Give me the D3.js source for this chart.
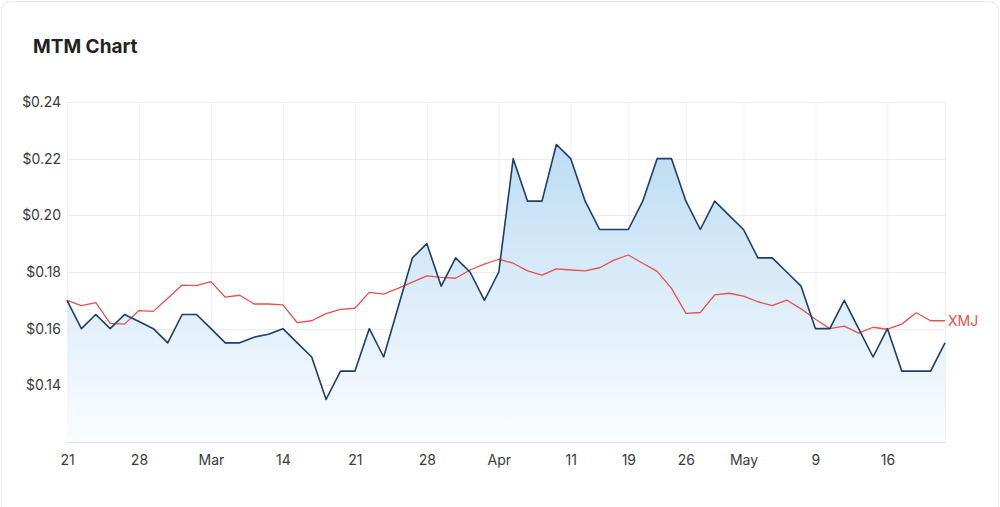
<!DOCTYPE html>
<html>
<head>
<meta charset="utf-8">
<script src="https://cdn.jsdelivr.net/npm/d3@7"></script>
<style>
  html, body { margin: 0; padding: 0; background: #fff; }
  svg { display: block; font-family: Inter, "Noto Sans", sans-serif; }
</style>
</head>
<body>
<div id="chart"></div>
<script>
// ASX trading days, 21 Feb - 20 May 2022 (Easter + Anzac day closed)
const dates = [
  '2022-02-21', '2022-02-22', '2022-02-23', '2022-02-24', '2022-02-25',
  '2022-02-28', '2022-03-01', '2022-03-02', '2022-03-03', '2022-03-04',
  '2022-03-07', '2022-03-08', '2022-03-09', '2022-03-10', '2022-03-11',
  '2022-03-14', '2022-03-15', '2022-03-16', '2022-03-17', '2022-03-18',
  '2022-03-21', '2022-03-22', '2022-03-23', '2022-03-24', '2022-03-25',
  '2022-03-28', '2022-03-29', '2022-03-30', '2022-03-31', '2022-04-01',
  '2022-04-04', '2022-04-05', '2022-04-06', '2022-04-07', '2022-04-08',
  '2022-04-11', '2022-04-12', '2022-04-13', '2022-04-14',
  '2022-04-19', '2022-04-20', '2022-04-21', '2022-04-22',
  '2022-04-26', '2022-04-27', '2022-04-28', '2022-04-29',
  '2022-05-02', '2022-05-03', '2022-05-04', '2022-05-05', '2022-05-06',
  '2022-05-09', '2022-05-10', '2022-05-11', '2022-05-12', '2022-05-13',
  '2022-05-16', '2022-05-17', '2022-05-18', '2022-05-19', '2022-05-20',
];

const mtm = [
  0.17, 0.16, 0.165, 0.16, 0.165,
  0.1625, 0.16, 0.155, 0.165, 0.165,
  0.16, 0.155, 0.155, 0.157, 0.158,
  0.16, 0.155, 0.15, 0.135, 0.145,
  0.145, 0.16, 0.15, 0.1675, 0.185,
  0.19, 0.175, 0.185, 0.18, 0.17,
  0.18, 0.22, 0.205, 0.205, 0.225,
  0.22, 0.205, 0.195, 0.195,
  0.195, 0.205, 0.22, 0.22,
  0.205, 0.195, 0.205, 0.2,
  0.195, 0.185, 0.185, 0.18, 0.175,
  0.16, 0.16, 0.17, 0.16, 0.15,
  0.16, 0.145, 0.145, 0.145, 0.155,
];

// XMJ rebased to MTM's first close
const xmj = [
  0.17, 0.1681, 0.1692, 0.1619, 0.1616,
  0.1664, 0.1661, 0.1707, 0.1754, 0.1752,
  0.1766, 0.1711, 0.1718, 0.1687, 0.1687,
  0.1684, 0.1621, 0.1628, 0.1653, 0.1668,
  0.1672, 0.1728, 0.1722, 0.1742, 0.1764,
  0.1786, 0.1781, 0.1778, 0.1807, 0.1828,
  0.1845, 0.1831, 0.1804, 0.1789, 0.1811,
  0.1807, 0.1804, 0.1815, 0.1842,
  0.186, 0.1831, 0.1802, 0.1742,
  0.1654, 0.1657, 0.1719, 0.1725,
  0.1715, 0.1695, 0.1681, 0.1701, 0.1670,
  0.1633, 0.16, 0.1609, 0.1584, 0.1605,
  0.1598, 0.1616, 0.1656, 0.1628, 0.1628,
];

const xTickDates = ['2022-02-21', '2022-02-28', '2022-03-07', '2022-03-14', '2022-03-21', '2022-03-28',
  '2022-04-04', '2022-04-11', '2022-04-19', '2022-04-26', '2022-05-02', '2022-05-09', '2022-05-16'];
const xTickLabels = ['21', '28', 'Mar', '14', '21', '28', 'Apr', '11', '19', '26', 'May', '9', '16'];
const yTicks = [0.14, 0.16, 0.18, 0.20, 0.22, 0.24];

const width = 1000;
const height = 507;
const margin = { top: 102, right: 55, bottom: 65, left: 67 };
const plotW = width - margin.left - margin.right;
const plotH = height - margin.top - margin.bottom;

const svg = d3.select('#chart')
  .append('svg')
  .attr('width', width)
  .attr('height', height);

// card outline
svg.append('rect')
  .attr('x', 1.5).attr('y', 1.5)
  .attr('width', width - 3).attr('height', height + 20)
  .attr('rx', 9)
  .attr('fill', '#fff')
  .attr('stroke', '#e6e6e6');

svg.append('text')
  .attr('x', 33).attr('y', 53)
  .attr('font-size', 19)
  .attr('font-weight', 700)
  .attr('fill', '#222')
  .text('MTM Chart');

const g = svg.append('g')
  .attr('transform', `translate(${margin.left},${margin.top})`);

const x = d3.scalePoint()
  .domain(dates)
  .range([0, plotW]);

const y = d3.scaleLinear()
  .domain([0.12, 0.24])
  .range([plotH, 0]);

// gridlines
g.append('g')
  .selectAll('line')
  .data(xTickDates)
  .join('line')
  .attr('x1', d => x(d) + 0.5).attr('x2', d => x(d) + 0.5)
  .attr('y1', 0).attr('y2', plotH)
  .attr('stroke', '#f0f0f0');

g.append('line')
  .attr('x1', plotW + 0.5).attr('x2', plotW + 0.5)
  .attr('y1', 0).attr('y2', plotH)
  .attr('stroke', '#f0f0f0');

g.append('g')
  .selectAll('line')
  .data(yTicks)
  .join('line')
  .attr('x1', 0).attr('x2', plotW)
  .attr('y1', d => Math.round(y(d)) + 0.5).attr('y2', d => Math.round(y(d)) + 0.5)
  .attr('stroke', '#ebebeb');

// area fill under MTM
const grad = svg.append('defs')
  .append('linearGradient')
  .attr('id', 'mtmFill')
  .attr('gradientUnits', 'userSpaceOnUse')
  .attr('x1', 0).attr('x2', 0)
  .attr('y1', y(d3.max(mtm))).attr('y2', plotH);
grad.append('stop').attr('offset', 0).attr('stop-color', '#bddcf3');
grad.append('stop').attr('offset', 1).attr('stop-color', '#fbfdff');

const area = d3.area()
  .x((d, i) => x(dates[i]))
  .y0(plotH)
  .y1(d => y(d));

g.append('path')
  .datum(mtm)
  .attr('fill', 'url(#mtmFill)')
  .attr('d', area);

// x axis
const xAxis = g.append('g')
  .attr('transform', `translate(0,${plotH})`)
  .call(d3.axisBottom(x)
    .tickValues(xTickDates)
    .tickFormat((d, i) => xTickLabels[i])
    .tickSize(0)
    .tickPadding(13));
xAxis.select('.domain').attr('stroke', '#e3e3e3');
xAxis.selectAll('text')
  .attr('font-size', 14)
  .attr('font-family', 'Inter, sans-serif')
  .attr('fill', '#3a3a3a');

// y axis labels
const yAxis = g.append('g')
  .call(d3.axisLeft(y)
    .tickValues(yTicks)
    .tickFormat(d => `$${d.toFixed(2)}`)
    .tickSize(0)
    .tickPadding(6));
yAxis.select('.domain').remove();
yAxis.selectAll('text')
  .attr('font-size', 14)
  .attr('font-family', 'Inter, sans-serif')
  .attr('fill', '#3a3a3a');

const line = d3.line()
  .x((d, i) => x(dates[i]))
  .y(d => y(d));

g.append('path')
  .datum(xmj)
  .attr('fill', 'none')
  .attr('stroke', '#e8504c')
  .attr('stroke-width', 1.3)
  .attr('stroke-linejoin', 'round')
  .attr('d', line);

g.append('path')
  .datum(mtm)
  .attr('fill', 'none')
  .attr('stroke', '#1c3d6e')
  .attr('stroke-width', 1.6)
  .attr('stroke-linejoin', 'round')
  .attr('d', line);

// series label at the end of the index line
g.append('text')
  .attr('x', x(dates[dates.length - 1]) + 3)
  .attr('y', y(xmj[xmj.length - 1]))
  .attr('dy', '0.36em')
  .attr('font-size', 14)
  .attr('fill', '#e8504c')
  .text('XMJ');
</script>
</body>
</html>
